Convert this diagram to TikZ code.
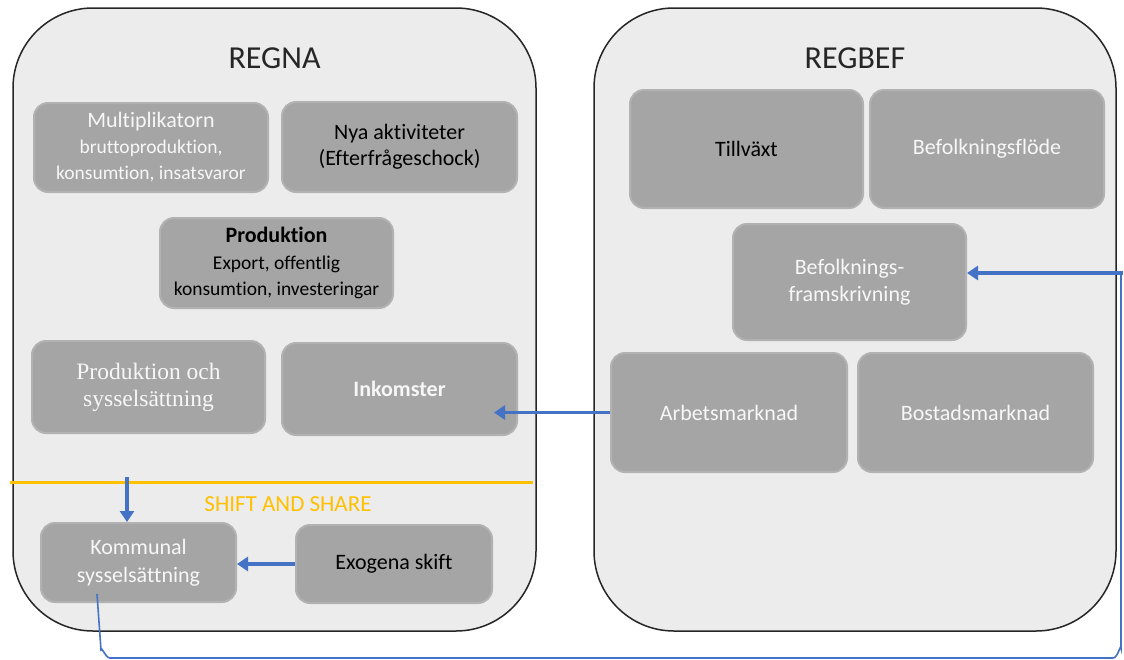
\documentclass[tikz,border=0pt]{standalone}
\usepackage{fontspec}
\setmainfont{Carlito}[Ligatures={NoCommon}]
\newfontfamily\cambface{Liberation Serif}
\usetikzlibrary{arrows.meta}
\definecolor{panel}{HTML}{ECECEC}
\definecolor{edge}{HTML}{262626}
\definecolor{tilefill}{HTML}{A5A5A5}
\definecolor{tileglow}{HTML}{B2B2B2}
\definecolor{link}{HTML}{4472C4}
\definecolor{shiftc}{HTML}{FFC000}
\definecolor{lighttxt}{HTML}{F7F7F7}
\newcommand{\bigline}{\fontsize{22}{25}\selectfont}
\newcommand{\smallline}{\fontsize{19.5}{23.5}\selectfont}
\begin{document}
\begin{tikzpicture}[x=1pt,y=-1pt,
  panelbox/.style={draw=edge, line width=1.5pt, fill=panel, rounded corners=80pt, inner sep=0pt},
  paneltitle/.style={text=edge, font=\fontsize{32}{36}\selectfont},
  tile/.style={fill=tilefill, draw=tileglow, line width=2pt, rounded corners=14pt,
    inner sep=0pt, align=center, font=\fontsize{22}{26}\selectfont},
  lighttext/.style={text=lighttxt},
  darktext/.style={text=black},
  flow/.style={draw=link, line width=3.5pt, -{Triangle[width=14pt,length=11pt]}},
  feedback/.style={draw=link, line width=1.6pt},
]
\useasboundingbox[fill=white] (0,0) rectangle (1124,659);

% the two model panels
\node[panelbox, minimum width=523pt, minimum height=623pt] (regna) at (274.5,319.5) {};
\node[panelbox, minimum width=522pt, minimum height=623pt] (regbef) at (855,319.5) {};
\node[paneltitle] (regnat) at (274.5,58) {REGNA};
\node[paneltitle] (regbeft) at (855,58) {REGBEF};

% REGNA tiles
\node[tile, lighttext, minimum width=234pt, minimum height=89pt] (mult) at (151,147.5)
  {\bigline Multiplikatorn\\[0pt]
   \smallline bruttoproduktion,\\ \smallline konsumtion, insatsvaror};
\node[tile, darktext, minimum width=235pt, minimum height=90pt] (nya) at (399.5,147)
  {Nya aktiviteter\\(Efterfrågeschock)};
\node[tile, darktext, minimum width=233pt, minimum height=90pt] (prod) at (276.5,263)
  {\bigline\bfseries Produktion\\[1pt]
   \smallline Export, offentlig\\ \smallline konsumtion, investeringar};
\node[tile, lighttext, minimum width=233pt, minimum height=92pt, font=\cambface\fontsize{23.5}{27}\selectfont] (prodsys) at (148.5,387)
  {Produktion och\\sysselsättning};
\node[tile, lighttext, minimum width=235pt, minimum height=92pt, font=\bfseries\fontsize{22}{26}\selectfont] (ink) at (399.5,389)
  {Inkomster};

% shift-and-share part
\coordinate (shiftL) at (10,482);
\coordinate (shiftR) at (533,482);
\draw[shiftc, line width=3pt] (shiftL) -- (shiftR);
\node[text=shiftc, font=\fontsize{23}{26}\selectfont] (shiftt) at (288,504) {SHIFT AND SHARE};
\node[tile, lighttext, minimum width=195pt, minimum height=79pt, font=\fontsize{22}{28}\selectfont] (kom) at (138.5,562.5)
  {Kommunal\\sysselsättning};
\node[tile, darktext, minimum width=196pt, minimum height=78pt] (exo) at (394,564)
  {Exogena skift};

% REGBEF tiles
\node[tile, darktext, minimum width=233pt, minimum height=118pt] (till) at (746.5,149) {Tillväxt};
\node[tile, lighttext, minimum width=234pt, minimum height=118pt] (bflow) at (987,149) {Befolkningsflöde};
\node[tile, lighttext, minimum width=233pt, minimum height=116pt, font=\fontsize{22}{27}\selectfont] (bfr) at (849.5,282)
  {Befolknings-\\framskrivning};
\node[tile, lighttext, minimum width=236pt, minimum height=119pt] (arb) at (729,412.5) {Arbetsmarknad};
\node[tile, lighttext, minimum width=235pt, minimum height=119pt] (bost) at (975.5,412.5) {Bostadsmarknad};

% connectors
\coordinate (shiftdrop) at (127,477);
\draw[flow] (shiftdrop) -- (shiftdrop |- kom.north);
\draw[flow] (exo.west) -- (exo.west -| kom.east);
\draw[flow] (arb.west) -- ([xshift=-24pt]ink.east |- arb.west);

% feedback loop from municipal employment back to the population projection
\coordinate (kfoot) at (97,594);
\coordinate (fbBL) at (101,650);
\coordinate (fbB) at (110,658);
\coordinate (fbBR) at (1113,658);
\coordinate (fbR) at (1121,648);
\coordinate (fbTop) at (1121,273);
\coordinate (fbEnd) at (1123,273);
\draw[feedback] (kfoot) -- (fbBL) to[out=85,in=180] (fbB) -- (fbBR)
  to[out=0,in=95] (fbR) -- (fbTop);
\draw[flow] (fbEnd) -- (fbEnd -| bfr.east);
\end{tikzpicture}
\end{document}
